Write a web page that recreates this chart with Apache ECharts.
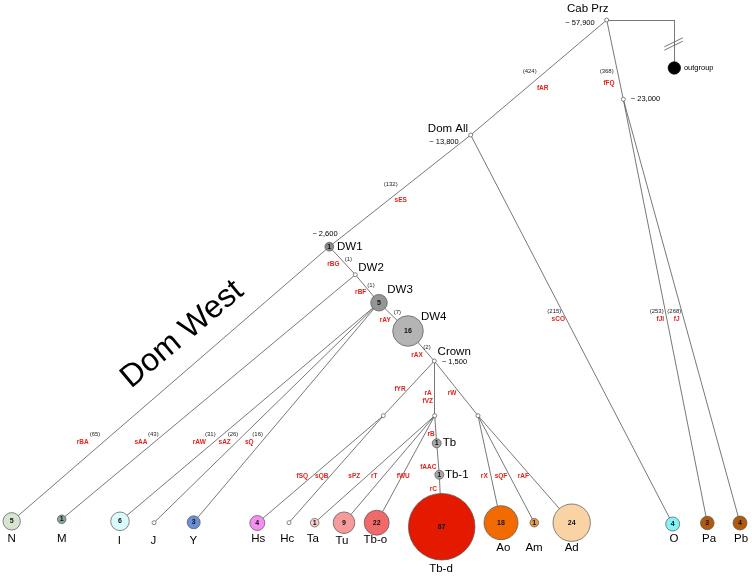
<!DOCTYPE html>
<html>
<head>
<meta charset="utf-8">
<script src="https://cdn.jsdelivr.net/npm/echarts@6/dist/echarts.min.js"></script>
<style>html,body{margin:0;padding:0;background:#fff;}#c{width:752px;height:577px;}</style>
</head>
<body>
<div id="c"></div>
<script>
// ---------- tree nodes (layout coordinates) ----------
const nodeNames = ['CabPrz','n23000','DomAll','DW1','DW2','DW3','DW4','Crown','nH','nT','nA','Tb','Tb-1',
  'N','M','I','J','Y','Hs','Hc','Ta','Tu','Tb-o','Tb-d','Ao','Am','Ad','O','Pa','Pb','ogCorner','outgroup'];
const nodeX = [606.7,623.3,470.7,329.3,355.3,379,408,434.3,383.3,434.7,478,436.7,439.3,
  11.7,61.7,120,154,193.7,257.3,289,314.7,344,376.7,441.7,501,534.3,571.7,672.7,707.3,740,674.3,674.3];
const nodeY = [20,99.3,135,246.7,274.7,302.7,331,361,415.7,415.7,415.7,443.3,474.7,
  521.3,519.3,521.3,522.7,522.3,523,522.7,522.7,522.7,522.7,526.7,522.7,522.7,522.7,524,523,523,20,68];
const parents = [null,'CabPrz','CabPrz','DomAll','DW1','DW2','DW3','DW4','Crown','Crown','Crown','nT','Tb',
  'DW1','DW2','DW3','DW3','DW3','nH','nH','nT','nT','nT','Tb-1','nA','nA','nA','DomAll','n23000','n23000','CabPrz','ogCorner'];
const counts = ['','','','1','','5','16','','','','','1','1',
  '5','1','6','','3','4','','1','9','22','87','18','1','24','4','3','4','','' ];
const radii = [2,2,2,4.4,2,8.3,15.3,2,2,2,2,4.5,4.5,
  8.7,4.3,9.3,2,6.5,7.5,2,4.3,10.8,12.5,33.3,17,4.3,18.7,7,6.8,7,0,6.2];
const fills = ['#fff','#fff','#fff','#8c8c8c','#fff','#959595','#b4b4b4','#fff','#fff','#fff','#fff','#a6a6a6','#a6a6a6',
  '#d6e4d2','#86a898','#dafbfd','#fff','#6b8ed6','#f48ef2','#fff','#f7cccc','#f59b9b','#f06a6a','#e31a00',
  '#f26b00','#e89a40','#f9d3a4','#84f3f7','#b25a0b','#b25a0b','#fff','#000'];

// ---------- text annotations ----------
const nodeTitles = [[587.7,8.5,'Cab Prz'],[448,129.3,'Dom All'],[349.8,246.7,'DW1'],[371,268,'DW2'],[400,290,'DW3'],
  [433.7,317,'DW4'],[454.2,351.7,'Crown'],[449.5,443.3,'Tb'],[456.7,474.7,'Tb-1']];
const ageLabels = [[580,23,'~ 57,900'],[444,141.7,'~ 13,800'],[645.5,99.3,'~ 23,000'],[325,234.3,'~ 2,600'],[454.5,361.7,'~ 1,500'],
  [698.7,67.7,'outgroup']];
const leafLabels = [[11.7,539.3,'N'],[61.7,539.3,'M'],[119.3,540.7,'I'],[153.3,540.7,'J'],[193.3,540.7,'Y'],[258.3,539.3,'Hs'],
  [287.3,539.3,'Hc'],[312.7,539,'Ta'],[342,540.7,'Tu'],[375.3,540,'Tb-o'],[441,568.7,'Tb-d'],[503.3,548.3,'Ao'],
  [534,548.3,'Am'],[571.7,547.7,'Ad'],[674,539.3,'O'],[709,539.3,'Pa'],[741,539.3,'Pb']];
const countLabels = [[529.7,71.7,'(424)'],[606.7,71.7,'(368)'],[390.7,184.3,'(132)'],[348.3,259.7,'(1)'],[371,285,'(1)'],
  [397.3,312.3,'(7)'],[427,347.7,'(2)'],[95,434.5,'(65)'],[153.3,434.5,'(43)'],[210.3,434.5,'(31)'],[233,434.5,'(26)'],
  [257.7,434.5,'(16)'],[554.3,311.7,'(215)'],[656.7,311.7,'(253)'],[674.3,311.7,'(268)']];
const mutationLabels = [[542.7,88,'fAR'],[609,83,'fFQ'],[400.7,200.7,'sES'],[333.3,264,'rBG'],[360.7,292.7,'rBF'],
  [385.3,320,'rAY'],[417,355.3,'rAX'],[400,389.3,'fYR'],[428,393.3,'rA'],[427.7,401,'fVZ'],[452,393.3,'rW'],
  [431,434.3,'rB'],[428.3,467.3,'fAAC'],[433.3,489.7,'rC'],[302.3,476,'fSQ'],[321.7,476,'sQB'],[354.3,476,'sPZ'],
  [374.3,476,'rT'],[403.3,476,'fWU'],[484.3,476,'rX'],[501,476,'sQF'],[523.3,476,'rAF'],[82.7,442.7,'rBA'],
  [141,442.7,'sAA'],[199.3,442.7,'rAW'],[224.7,442.7,'sAZ'],[249.3,442.7,'sQ'],[558.3,319,'sCO'],[660.3,319,'fJI'],
  [676.7,319,'fJ']];
const cladeLabel = [[182.4,334.5,'Dom West']];

// ---------- build ----------
const FONT = '"Liberation Sans", Arial, Helvetica, sans-serif';
const idx = {}; nodeNames.forEach((n,i)=>idx[n]=i);
const edges = [];
nodeNames.forEach((n,i)=>{
  const p = parents[i];
  if (p === null) return;
  const j = idx[p];
  edges.push({coords:[[nodeX[j],nodeY[j]],[nodeX[i],nodeY[i]]]});
});
// break marks on the outgroup branch
const cI = idx['ogCorner'], oI = idx['outgroup'];
const bx = nodeX[oI], by = (nodeY[cI] + nodeY[oI]) / 2;
[-1.7, 1.7].forEach(d=>{
  edges.push({coords:[[bx-10, by+4.5+d],[bx+8.5, by-4.5+d]]});
});

const nodeData = nodeNames.map((n,i)=>({
  value:[nodeX[i],nodeY[i]],
  symbolSize: radii[i]*2,
  itemStyle:{color:fills[i], opacity:1, borderColor: i===oI ? '#000' : '#555', borderWidth: radii[i] ? 0.7 : 0},
  label:{show: counts[i] !== '', formatter: counts[i]}
}));

function textSeries(arr, labelStyle, z){
  return {
    type:'scatter', symbolSize:0, silent:true, z:z||5,
    itemStyle:{opacity:1},
    data: arr.map(a=>({value:[a[0],a[1]], name:a[2]})),
    label: Object.assign({show:true, position:'inside', formatter: p=>p.name, fontFamily: FONT, color:'#000', opacity:1}, labelStyle)
  };
}

const chart = echarts.init(document.getElementById('c'), null, {renderer:'canvas'});
chart.setOption({
  animation:false,
  backgroundColor:'#fff',
  grid:{left:0,right:0,top:0,bottom:0},
  xAxis:{type:'value',min:0,max:752,show:false},
  yAxis:{type:'value',min:0,max:577,inverse:true,show:false},
  series:[
    {type:'lines', coordinateSystem:'cartesian2d', polyline:false, silent:true, z:1,
     lineStyle:{color:'#555', width:0.8, opacity:1}, data: edges},
    {type:'scatter', silent:true, z:3, symbol:'circle', data: nodeData,
     label:{position:'inside', fontFamily:FONT, fontWeight:'bold', fontSize:7, color:'#111'}},
    textSeries(nodeTitles,{fontSize:11.5}),
    textSeries(leafLabels,{fontSize:11.5}),
    textSeries(ageLabels,{fontSize:7.5}),
    textSeries(countLabels,{fontSize:6, color:'#222'}),
    textSeries(mutationLabels,{fontSize:6.5, fontWeight:'bold', color:'#e2231a'}),
    textSeries(cladeLabel,{fontSize:32, rotate:40})
  ]
});
</script>
</body>
</html>
